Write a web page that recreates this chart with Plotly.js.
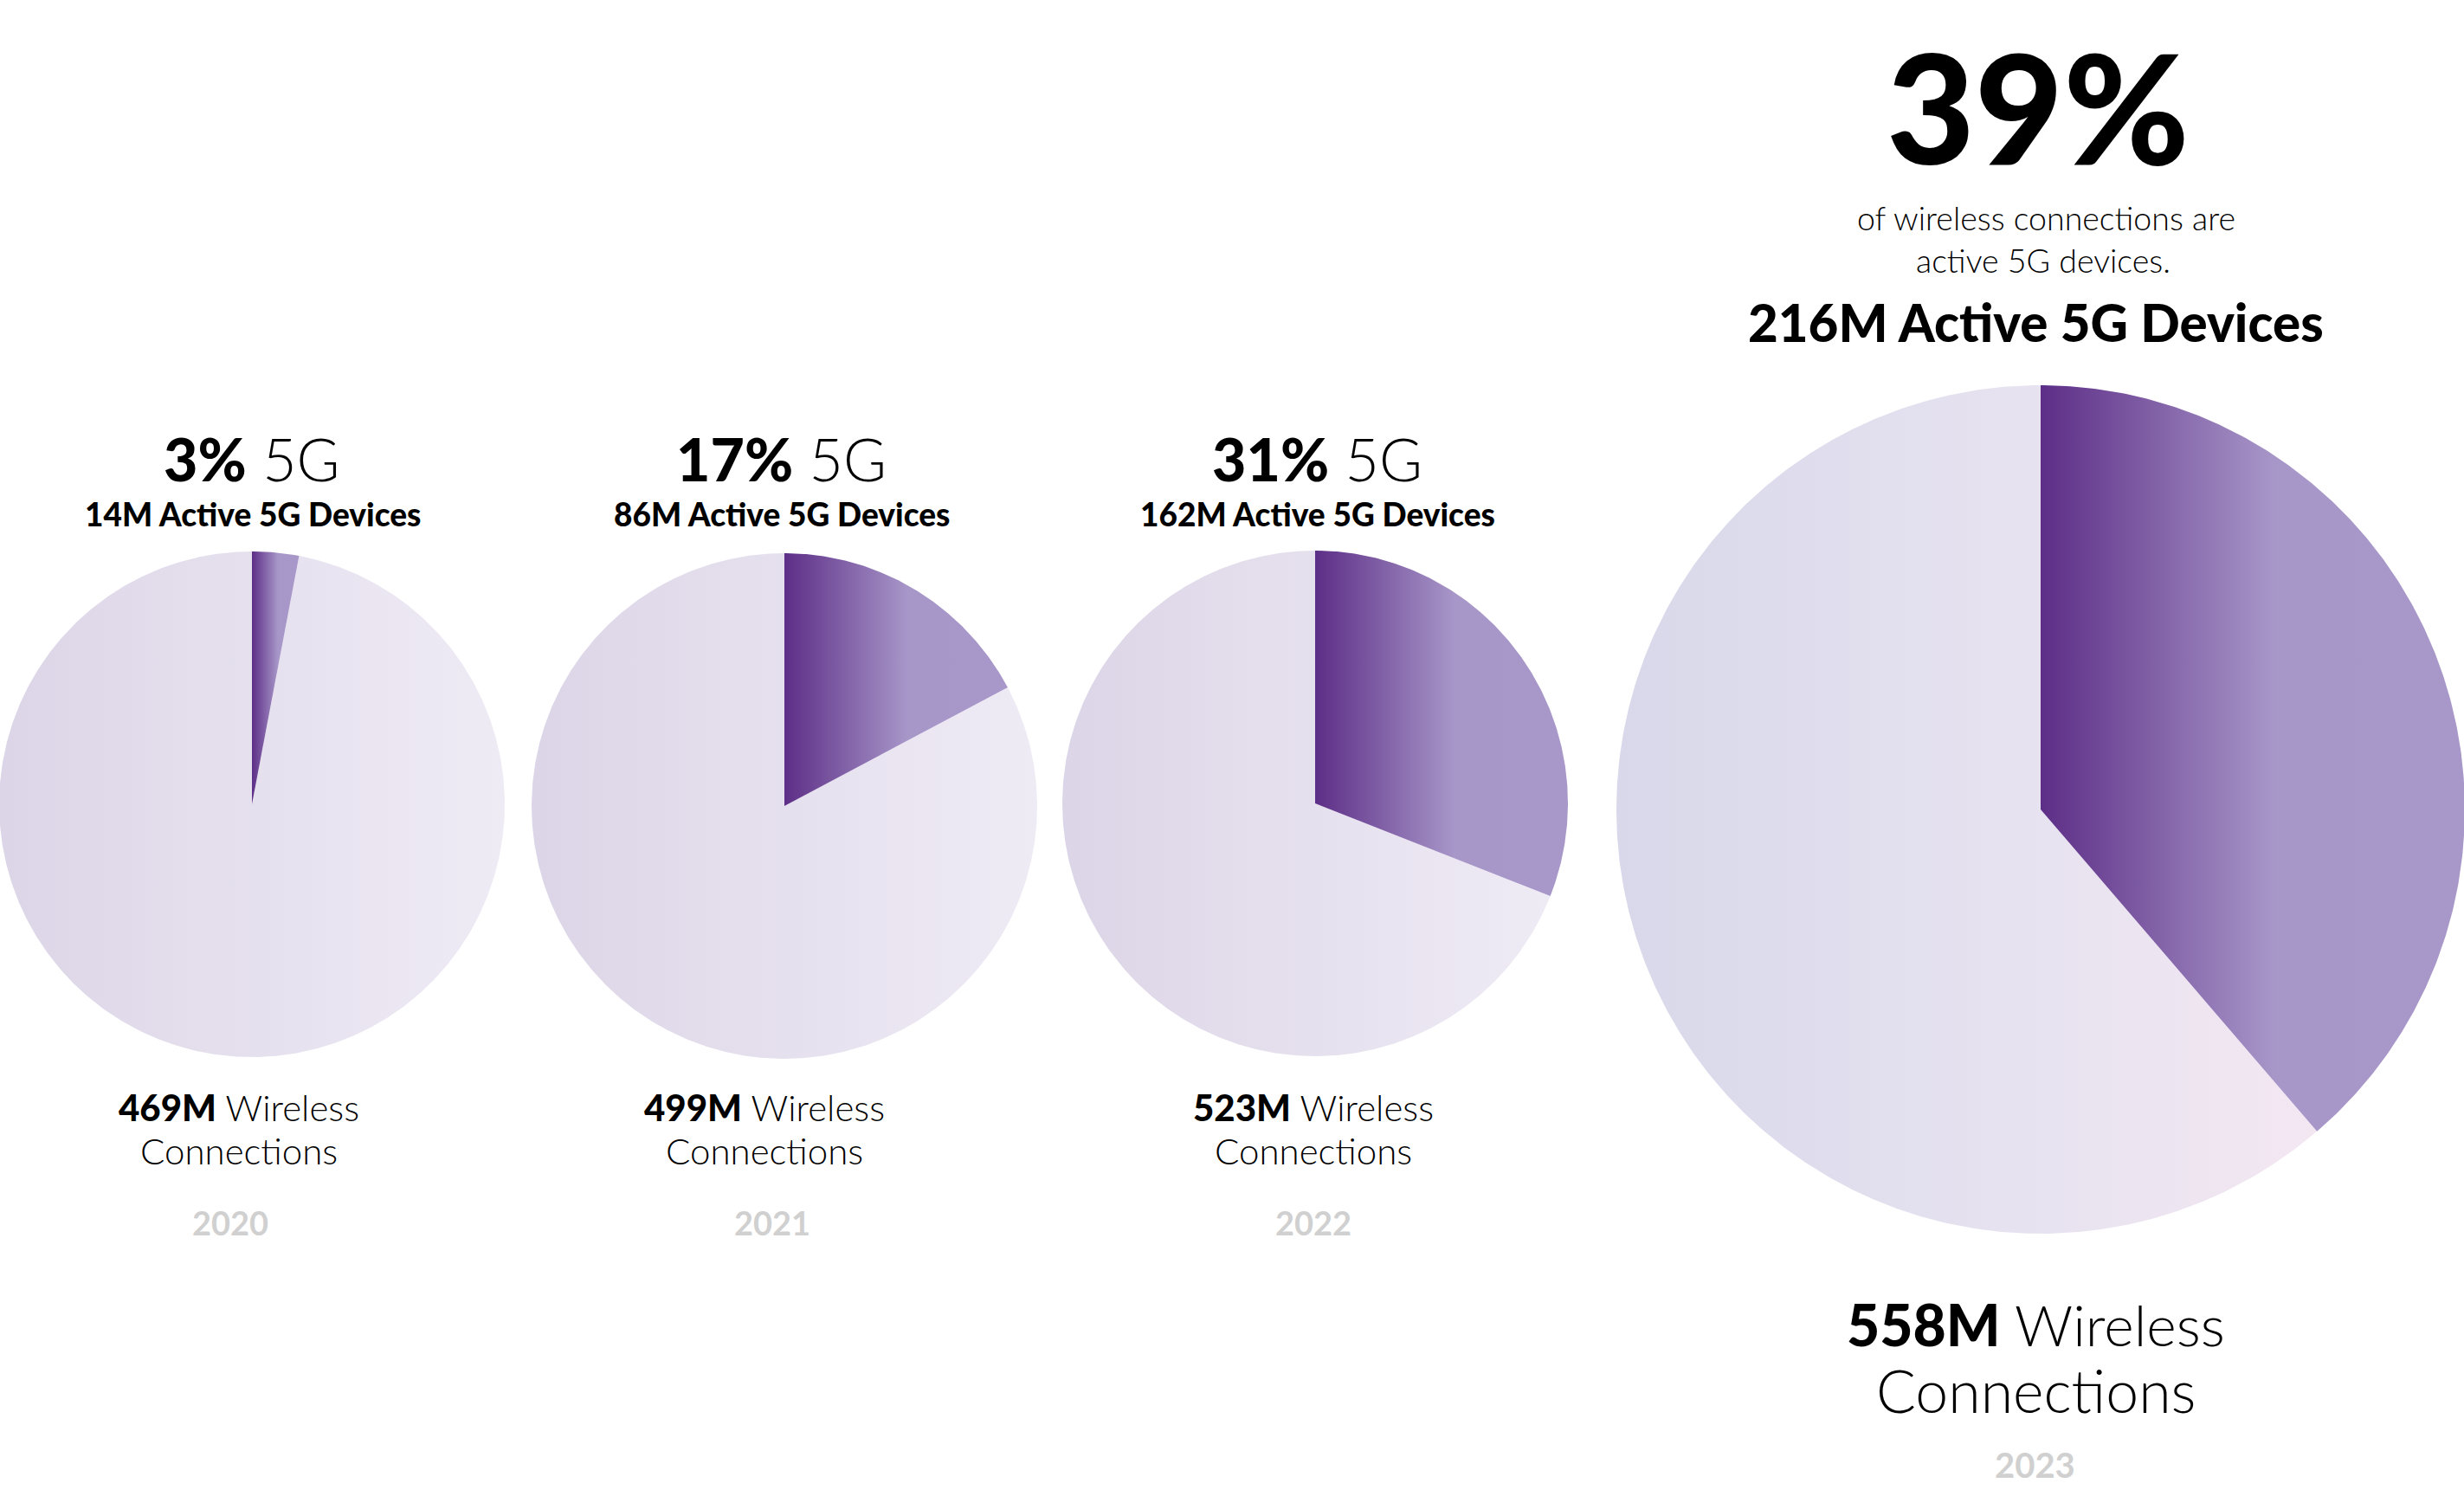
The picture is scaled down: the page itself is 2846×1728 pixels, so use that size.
<!DOCTYPE html>
<html>
<head>
<meta charset="utf-8">
<script src="https://cdn.plot.ly/plotly-3.0.1.min.js"></script>
<style>
html,body{margin:0;padding:0;background:#ffffff;}
#chart{width:2846px;height:1728px;}
</style>
</head>
<body>
<div id="chart"></div>
<script>
// ---------------- DATA ----------------
const years = ['2020', '2021', '2022', '2023'];
const active5G = [14, 86, 162, 216];              // millions of active 5G devices
const wirelessConnections = [469, 499, 523, 558]; // millions of wireless connections
const sharePct = [3, 17, 31, 39];                 // % of connections that are 5G

// ---------------- LAYOUT CONSTANTS ----------------
const W = 2846, H = 1728;
const pieCenters = [[291, 929], [906, 931], [1519, 928], [2357, 935]];
const pieRadii = [292, 292, 292, 490];

const LIGHT = "Lato, 'Open Sans', 'Noto Sans', sans-serif";

const fiveGScale = [[0, '#5d2e87'], [0.55, '#a796c8'], [1, '#a897c9']];
const restScaleSmall = [[0, '#dcd5e7'], [1, '#efebf5']];
const restScaleBig = [[0, '#d8d8ea'], [0.55, '#e6e2f0'], [1, '#f3e7f2']];

// wedge from turn fraction a0 to a1 (clockwise from 12 o'clock); y axis points down
function wedge(cx, cy, r, a0, a1) {
  const xs = [cx], ys = [cy];
  const steps = Math.max(8, Math.ceil((a1 - a0) * 720));
  for (let k = 0; k <= steps; k++) {
    const t = 2 * Math.PI * (a0 + (a1 - a0) * k / steps);
    xs.push(cx + r * Math.sin(t));
    ys.push(cy - r * Math.cos(t));
  }
  xs.push(cx); ys.push(cy);
  return {x: xs, y: ys};
}

const traces = [];
years.forEach((yr, i) => {
  const [cx, cy] = pieCenters[i];
  const r = pieRadii[i];
  const frac = active5G[i] / wirelessConnections[i];
  const rest = wedge(cx, cy, r, frac, 1);
  const five = wedge(cx, cy, r, 0, frac);
  traces.push({
    type: 'scatter', mode: 'lines', x: rest.x, y: rest.y,
    fill: 'toself', line: {width: 0, color: 'rgba(0,0,0,0)'},
    fillgradient: {type: 'horizontal', colorscale: i === 3 ? restScaleBig : restScaleSmall},
    name: yr + ' other wireless connections',
    text: (wirelessConnections[i] - active5G[i]) + 'M other connections',
    hoverinfo: 'text', hoveron: 'fills', showlegend: false
  });
  traces.push({
    type: 'scatter', mode: 'lines', x: five.x, y: five.y,
    fill: 'toself', line: {width: 0, color: 'rgba(0,0,0,0)'},
    fillgradient: {type: 'horizontal', colorscale: fiveGScale},
    name: yr + ' active 5G devices',
    text: active5G[i] + 'M active 5G devices',
    hoverinfo: 'text', hoveron: 'fills', showlegend: false
  });
});

function ann(x, y, text, size, weight, color) {
  return {
    x: x, y: y, xref: 'x', yref: 'y', text: text, showarrow: false,
    xanchor: 'center', yanchor: 'middle',
    font: {family: LIGHT, size: size, weight: weight, color: color || '#000000'}
  };
}
const B = s => '<span style="font-weight:900">' + s + '</span>';

const annotations = [];
const topLabelX = [291, 902, 1521];
const bottomLabelX = [276, 883, 1517];
const yearX = [266, 892, 1517];
for (let i = 0; i < 3; i++) {
  annotations.push(ann(topLabelX[i], 529, B(sharePct[i] + '%') + ' 5G', 68, 300));
  annotations.push(ann(topLabelX[i] + 1, 593, active5G[i] + 'M Active 5G Devices', 37, 900));
  annotations.push(ann(bottomLabelX[i], 1279, B(wirelessConnections[i] + 'M') + ' Wireless', 42, 300));
  annotations.push(ann(bottomLabelX[i], 1329, 'Connections', 42, 300));
  annotations.push(ann(yearX[i], 1412, years[i], 38, 700, '#d0d0d0'));
}
// 2023 (highlight)
annotations.push(ann(2354, 121, sharePct[3] + '%', 176, 900));
annotations.push(ann(2363, 251, 'of wireless connections are', 37.5, 300));
annotations.push(ann(2360, 300, 'active 5G devices.', 37.5, 300));
annotations.push(ann(2351, 372, active5G[3] + 'M Active 5G Devices', 60, 900));
annotations.push(ann(2351, 1529, B(wirelessConnections[3] + 'M') + ' Wireless', 66, 300));
annotations.push(ann(2351, 1605, 'Connections', 68, 300));
annotations.push(ann(2350, 1692, years[3], 40, 700, '#d0d0d0'));

const layout = {
  width: W, height: H,
  margin: {l: 0, r: 0, t: 0, b: 0, pad: 0},
  paper_bgcolor: '#ffffff', plot_bgcolor: '#ffffff',
  showlegend: false,
  hovermode: 'closest',
  xaxis: {range: [0, W], visible: false, fixedrange: true},
  yaxis: {range: [H, 0], visible: false, fixedrange: true},
  annotations: annotations
};

Plotly.newPlot('chart', traces, layout, {displayModeBar: false});
</script>
</body>
</html>
